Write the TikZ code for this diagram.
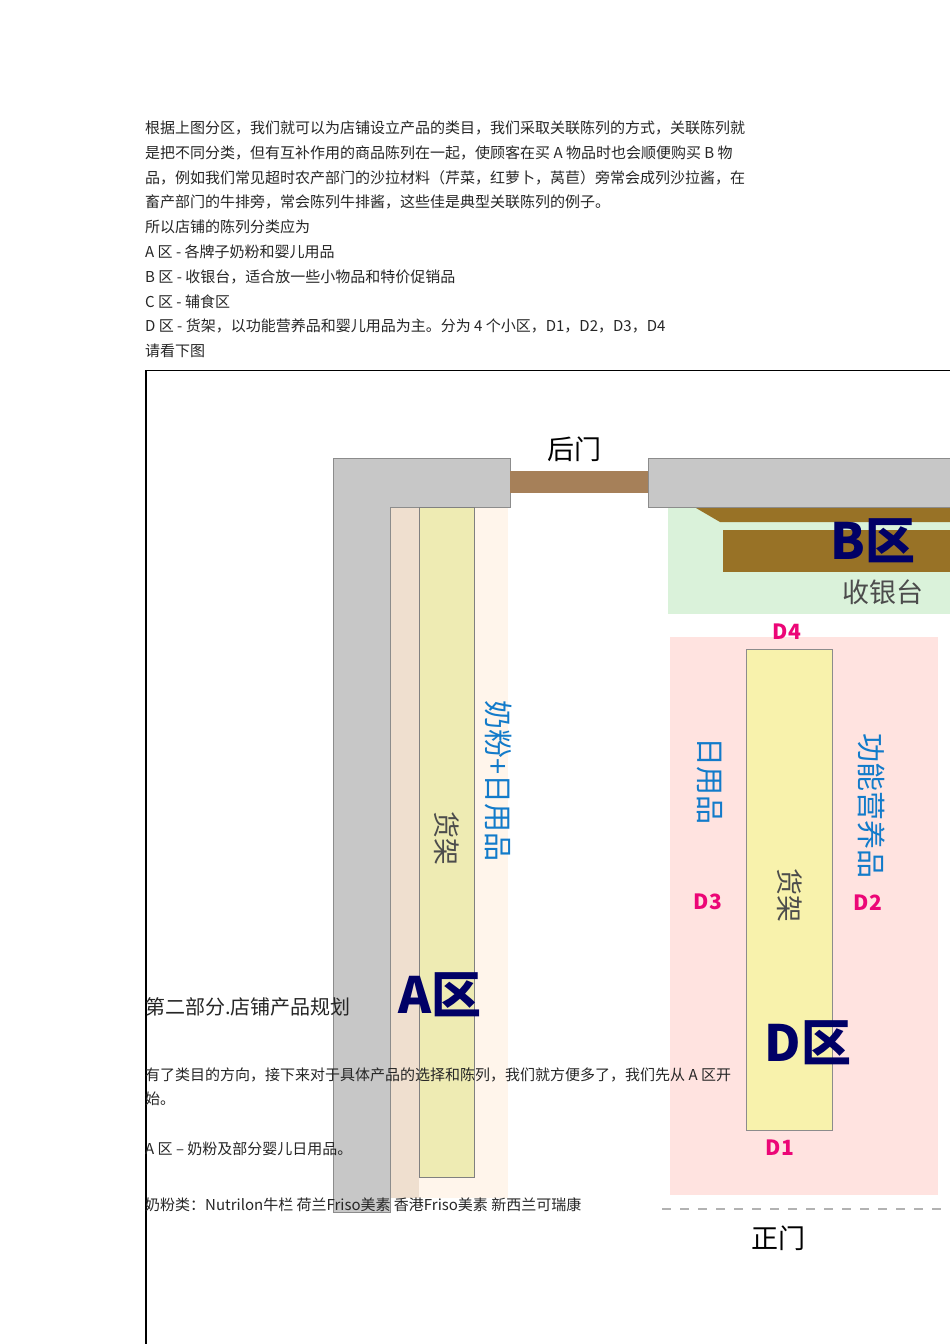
\documentclass[tikz,border=0pt]{standalone}
\usepackage{fontspec}
\setmainfont{Noto Sans CJK SC}
\begin{document}
\begin{tikzpicture}[x=1pt,y=-1pt,
  doc/.style={anchor=west,inner sep=0,font=\fontsize{15}{15}\selectfont,text=black!85},
  blue/.style={text=cyan!60!blue,font=\fontsize{29}{29}\selectfont,rotate=-90,inner sep=0},
  dlab/.style={text=magenta!80!red,font=\fontsize{21}{21}\bfseries,inner sep=0},
  zone/.style={text=blue!40!black,font=\fontsize{50}{50}\bfseries,inner sep=0},
  shelf/.style={text=black!70,font=\fontsize{27}{27}\selectfont,rotate=-90,inner sep=0},
  wall/.style={fill=black!22,draw=black!45,line width=0.8pt}]
\useasboundingbox (0,0) rectangle (950,1344);
\fill[white] (0,0) rectangle (950,1344);
% intro text
\foreach \t [count=\i] in {根据上图分区，我们就可以为店铺设立产品的类目，我们采取关联陈列的方式，关联陈列就,
 是把不同分类，但有互补作用的商品陈列在一起，使顾客在买 A 物品时也会顺便购买 B 物,
 品，例如我们常见超时农产部门的沙拉材料（芹菜，红萝卜，莴苣）旁常会成列沙拉酱，在,
 畜产部门的牛排旁，常会陈列牛排酱，这些佳是典型关联陈列的例子。,
 所以店铺的陈列分类应为,
 A 区 - 各牌子奶粉和婴儿用品,
 B 区 - 收银台，适合放一些小物品和特价促销品,
 C 区 - 辅食区,
 D 区 - 货架，以功能营养品和婴儿用品为主。分为 4 个小区，D1，D2，D3，D4,
 请看下图}
 \node[doc] (t\i) at (145,{103+24.8*\i}) {\t};
% frame
\draw[black,line width=1.2pt] (146,1344) -- (146,370.5) -- (950,370.5);
% A zone
\fill[orange!8] (390,507) rectangle (508,1198);
\fill[brown!25] (390,507) rectangle (419,1198);
\draw[wall] (333,1212) -- (333,458) -- (510,458) -- (510,507) -- (390,507) -- (390,1212) -- cycle;
\draw[fill=yellow!40!olive!25!white,draw=black!50] (419,507) rectangle (474,1177);
% back door
\fill[brown!75!black!80] (510,471) rectangle (648,493);
\node[font=\fontsize{27}{27}\selectfont,inner sep=0] (hm) at (574,449) {后门};
\draw[wall] (648,458) rectangle (955,507);
% B zone
\fill[green!10!white!95!black] (668,508) rectangle (950,614);
\fill[brown!70!black!85!yellow] (696,508) -- (950,508) -- (950,522) -- (720,522) -- cycle;
\fill[brown!70!black!85!yellow] (723,530) rectangle (950,572);
\node[zone] (bq) at (873,541) {B区};
\node[font=\fontsize{27}{27}\selectfont,text=black!70,inner sep=0] (syt) at (883,592) {收银台};
% D zone
\fill[orange!15!red!12!white] (670,637) rectangle (938,1195);
\draw[fill=brown!30!yellow!35!white,draw=black!45] (746,649) rectangle (832,1130);
\node[dlab] (d4) at (787,632) {D4};
\node[dlab] (d3) at (708,902) {D3};
\node[dlab] (d2) at (868,903) {D2};
\node[dlab] (d1) at (780,1148) {D1};
\node[blue] (ryp) at (710,781) {日用品};
\node[blue] (gn) at (872,806) {功能营养品};
\node[shelf] (hj2) at (790,895) {货架};
\node[zone] (dq) at (808,1043) {D区};
% A labels
\node[blue] (nf) at (498,781) {奶粉+日用品};
\node[shelf] (hj1) at (447,838) {货架};
\node[zone] (aq) at (440,995) {A区};
% front door
\draw[black!30,dash pattern=on 9pt off 9pt,line width=1.2pt] (662,1209) -- (950,1209);
\node[font=\fontsize{27}{27}\selectfont,inner sep=0] (zm) at (778,1238) {正门};
% overlay doc text
\node[doc,font=\fontsize{20}{20}\selectfont] (h2) at (145,1007) {第二部分.店铺产品规划};
\node[doc] (p1) at (145,1075) {有了类目的方向，接下来对于具体产品的选择和陈列，我们就方便多了，我们先从 A 区开};
\node[doc] (p2) at (145,1099) {始。};
\node[doc] (p3) at (145,1149) {A 区 – 奶粉及部分婴儿日用品。};
\node[doc] (p4) at (145,1205) {奶粉类：Nutrilon牛栏 荷兰Friso美素 香港Friso美素 新西兰可瑞康};
\end{tikzpicture}
\end{document}
